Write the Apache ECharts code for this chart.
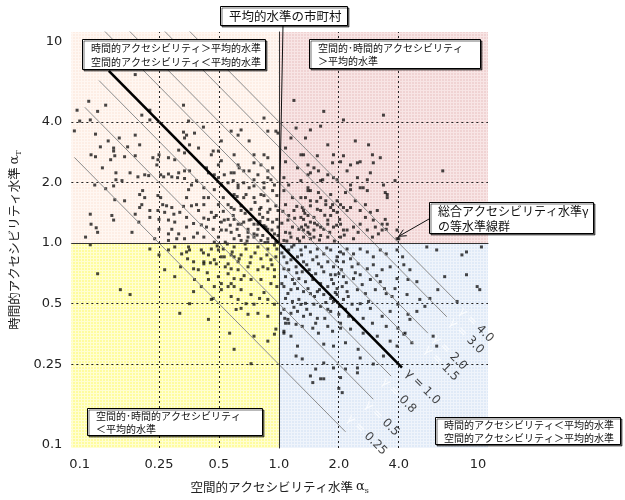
<!DOCTYPE html>
<html>
<head>
<meta charset="utf-8">
<script src="https://cdn.jsdelivr.net/npm/echarts@6/dist/echarts.min.js"></script>
<style>
  html, body { margin: 0; padding: 0; background: #fff; }
  #mychart { width: 625px; height: 500px; }
</style>
</head>
<body>
<div id="mychart"></div>
<script>
// 軸の目盛 (対数軸)
const tickValues = [0.1, 0.25, 0.5, 1.0, 2.0, 4.0, 10];
const tickLabels = ["0.1", "0.25", "0.5", "1.0", "2.0", "4.0", "10"];
const minorTickValues = [0.2, 0.3, 0.4, 0.6, 0.7, 0.8, 0.9, 3, 5, 6, 7, 8, 9];
const dottedLevels = [0.25, 0.5, 2.0, 4.0];

// 等水準線 γ = αS × αT
const gammaLevels = [0.25, 0.5, 0.8, 1.0, 1.5, 2.0, 3.0, 4.0];
const gammaStartS = [0.094, 0.106, 0.125, 0.14, 0.12, 0.15, 0.24, 0.3];
const gammaEndS = [2.16, 2.98, 3.66, 4.15, 4.76, 5.6, 6.97, 7.8];

// 市町村 [αS, αT]
const pointsTL = [
  [0.19,6.85],[0.21,7.6],[0.111,5.05],[0.097,4.56],[0.123,4.5],[0.135,4.83],[0.113,4.08],[0.1,4.03],[0.094,3.6],[0.225,4.56],
  [0.205,4.31],[0.225,4.08],[0.12,3.47],[0.139,3.21],[0.158,3.32],[0.19,3.43],[0.2,3.07],[0.174,3.0],[0.148,2.96],[0.127,3.0],
  [0.148,2.86],[0.114,2.74],[0.12,2.68],[0.15,2.71],[0.143,2.59],[0.168,2.68],[0.19,2.71],[0.13,2.36],[0.233,2.65],[0.247,2.59],
  [0.25,2.74],[0.244,2.44],[0.279,2.65],[0.3,2.59],[0.314,2.89],[0.336,2.8],[0.336,3.32],[0.332,3.55],[0.344,3.43],[0.352,4.03],
  [0.377,3.51],[0.395,2.96],[0.356,3.07],[0.418,3.76],[0.222,2.16],[0.212,2.18],[0.196,2.13],[0.179,2.23],[0.152,2.23],[0.152,2.06],
  [0.163,2.04],[0.119,1.94],[0.135,1.86],[0.148,1.92],[0.255,2.18],[0.264,2.13],[0.279,2.2],[0.29,2.13],[0.31,2.11],[0.314,2.23],
  [0.336,2.28],[0.356,2.28],[0.336,2.09],[0.364,1.94],[0.386,2.04],[0.433,2.36],[0.443,2.23],[0.42,1.68],[0.352,1.84],[0.207,1.82],
  [0.2,1.74],[0.212,1.68],[0.205,1.55],[0.15,1.64],[0.168,1.62],[0.247,1.72],[0.255,1.68],[0.261,1.55],[0.273,1.53],[0.29,1.5],
  [0.267,1.42],[0.247,1.45],[0.225,1.45],[0.19,1.39],[0.2,1.5],[0.297,1.39],[0.318,1.42],[0.332,1.52],[0.344,1.68],[0.386,1.55],
  [0.395,1.45],[0.364,1.53],[0.42,1.55],[0.145,1.37],[0.148,1.3],[0.113,1.39],[0.114,1.24],[0.121,1.19],[0.123,1.13],[0.183,1.13],
  [0.198,1.27],[0.225,1.34],[0.25,1.31],[0.25,1.17],[0.279,1.3],[0.29,1.17],[0.3,1.27],[0.279,1.11],[0.314,1.11],[0.344,1.2],
  [0.344,1.34],[0.373,1.25],[0.408,1.23],[0.42,1.33],[0.39,1.12],[0.373,1.07],[0.42,1.07],[0.336,1.05],[0.107,1.07],[0.238,1.05],
  [0.279,1.03],[0.307,1.05],[0.332,4.83],[0.576,3.59],[0.646,3.64],[0.624,3.43],[0.709,3.21],[0.842,4.17],[0.88,3.59],[0.966,3.59],
  [0.99,3.51],[0.514,3.21],[0.468,2.86],[0.596,2.74],[0.75,2.74],[0.842,2.74],[0.88,2.65],[0.497,2.44],[0.576,2.23],[0.632,2.36],
  [0.709,2.28],[0.813,2.44],[0.88,2.28],[0.912,2.06],[0.95,1.94],[0.75,2.06],[0.497,2.11],[0.556,1.99],[0.624,1.94],[0.474,1.84],
  [0.526,1.68],[0.596,1.74],[0.684,1.74],[0.75,1.68],[0.842,1.72],[0.88,1.62],[0.497,1.55],[0.576,1.5],[0.646,1.53],[0.725,1.47],
  [0.813,1.5],[0.88,1.42],[0.966,1.53],[0.474,1.34],[0.532,1.3],[0.596,1.31],[0.646,1.24],[0.709,1.3],[0.785,1.24],[0.861,1.2],
  [0.93,1.27],[0.99,1.2],[0.514,1.16],[0.576,1.13],[0.632,1.09],[0.7,1.13],[0.75,1.07],[0.83,1.09],[0.88,1.05],[0.95,1.11],
  [0.497,1.07],[0.596,1.05],[0.8,1.39],[0.83,1.34],[0.88,1.31],[0.842,1.22],[0.88,1.17],[0.785,1.17],[0.75,1.11],[0.93,1.07],
  [0.99,1.09],[0.966,1.01],[0.88,1.01],[0.813,1.03],[0.7,1.07],[0.646,1.03],[0.474,1.01],[0.99,1.45],[0.725,1.31],[0.666,1.27],
  [0.624,1.24],[0.59,1.37],[0.556,1.31],[0.514,1.27],[0.485,1.37],[0.458,1.42],[0.443,1.31],[0.433,1.2],[0.468,1.17],[0.544,1.16],
  [0.7,1.17],[0.75,1.24],[0.8,1.47],[0.646,1.45],[0.596,1.47],[0.556,1.55],[0.666,1.68],[0.813,1.74],[0.93,1.82],[0.842,1.99],
  [0.75,1.92],[0.666,1.99],[0.624,1.88],[0.59,2.04],[0.514,1.94],[0.443,1.68],[0.42,1.88],[0.474,2.18],[0.532,2.18],[0.596,2.23],
  [0.666,2.28],[0.785,2.18],[0.88,2.11],[0.93,2.36],[0.75,2.5],[0.624,2.44],[0.514,2.56],[0.458,2.74],[0.497,2.86],
  [0.538,1.01],[0.617,1.17],[0.692,1.023],[0.777,1.095],[0.851,1.005],[0.923,1.16],[0.977,1.31],[0.804,1.28],[0.677,1.404],[0.57,1.226],
  [0.902,1.47],[0.759,1.59],[0.617,1.7],[0.526,1.436],[0.977,1.72],[0.842,1.88],[0.709,1.88]
];
const pointsTR = [
  [1.68,4.5],[2.11,4.08],[3.35,4.31],[2.82,3.07],[2.42,3.21],[2.11,2.71],[1.62,3.8],[1.44,3.64],[1.36,3.32],[1.76,3.07],
  [1.88,2.74],[2.04,2.53],[2.29,2.44],[2.56,2.53],[2.95,2.74],[3.23,2.65],[3.35,1.94],[3.5,1.74],[2.78,2.06],[2.65,1.88],
  [2.48,2.11],[2.29,1.94],[2.16,1.78],[1.96,2.06],[1.76,2.18],[1.66,2.06],[1.58,2.28],[1.5,2.36],[1.4,2.44],[1.33,2.74],
  [6.65,2.28],[3.83,2.04],[3.92,1.16],[3.3,1.16],[3.05,1.2],[2.78,1.16],[2.56,1.24],[2.37,1.2],[2.2,1.16],[2.04,1.24],
  [1.88,1.2],[1.76,1.24],[1.62,1.2],[1.5,1.16],[1.4,1.2],[1.33,1.16],[2.72,1.55],[2.42,1.62],[2.2,1.45],[2.04,1.55],
  [1.88,1.45],[1.72,1.55],[1.56,1.47],[1.44,1.53],[1.33,1.45],[3.12,1.45],[3.42,1.31],[1.44,1.82],[1.62,1.68],[1.82,1.74],
  [1.62,2.04],[1.88,2.11],[1.58,1.78],[2.29,1.84],[2.56,1.88],[2.78,1.82],[3.42,1.78],[3.5,1.68],[1.96,1.62],[2.11,1.5],
  [2.29,1.5],[2.56,1.45],[2.88,1.42],[2.98,1.3],[2.72,1.34],[3.3,1.24],[3.5,1.24],[3.46,1.17],[4.0,1.05],[3.92,1.05],
  [3.16,1.11],[2.95,1.07],[2.37,1.05],[2.5,1.13],[2.11,1.16],[1.76,1.3],[1.82,1.37],[1.62,1.45],[1.4,1.37],[1.33,1.31],
  [1.31,1.5],[1.44,1.27],[1.56,1.23],[1.68,1.17],[1.62,1.09],[1.76,1.07],[1.5,1.07],[1.4,1.13],[1.33,1.07],[2.04,1.07],
  [1.96,1.42],[1.86,1.55],[1.72,1.62],[1.36,1.68],[1.4,1.88],[2.48,2.5],[2.98,2.5],[1.86,2.5],[1.44,2.23],[2.2,2.28],
  [2.88,2.23],[1.06,2.11],[1.12,1.94],[1.29,2.04],[1.4,1.82],[1.44,1.62],[1.08,1.55],[1.19,1.45],[1.29,1.34],[1.5,1.34],
  [1.11,1.3],[1.17,1.2],[1.26,1.17],[1.36,1.23],[1.08,1.13],[1.15,1.07],[1.24,1.05],[1.44,1.05],[1.06,1.03],[1.12,1.37],
  [1.06,1.82],[1.17,1.68],[1.29,1.68],[1.08,2.53],[1.24,2.36],[1.4,2.18],[1.56,2.71],[1.29,2.74],[1.19,5.1],[1.15,3.32],
  [1.08,2.96],[1.22,3.72],
  [1.035,1.254],[1.135,1.12],[1.2,1.327],[1.27,1.023],[1.35,1.404],[1.43,1.107],[1.51,1.254],[1.6,1.035],[1.7,1.373],[1.8,1.13],
  [1.9,1.023],[2.02,1.31],[2.13,1.095],[1.047,1.436],[1.23,1.52],[1.55,1.61],[1.82,1.5],[1.097,1.023],[1.3,1.2],[1.95,1.226]
];
const pointsBL = [
  [0.113,0.98],[0.123,0.704],[0.16,0.587],[0.179,0.555],[0.267,0.737],[0.3,0.681],[0.377,0.659],[0.318,0.448],[0.443,0.418],[0.458,0.525],
  [0.566,0.357],[0.596,0.297],[0.75,0.345],[0.88,0.326],[0.95,0.353],[0.966,0.374],[0.88,0.433],[0.785,0.448],[0.7,0.443],[0.646,0.474],
  [0.624,0.525],[0.576,0.543],[0.514,0.587],[0.474,0.608],[0.596,0.608],[0.646,0.587],[0.725,0.555],[0.8,0.531],[0.88,0.525],[0.95,0.497],
  [0.75,0.497],[0.684,0.5],[0.394,0.737],[0.42,0.788],[0.474,0.826],[0.514,0.854],[0.576,0.873],[0.646,0.873],[0.725,0.854],[0.813,0.835],
  [0.912,0.826],[0.966,0.854],[0.88,0.745],[0.785,0.737],[0.7,0.762],[0.624,0.737],[0.556,0.704],[0.497,0.681],[0.443,0.659],[0.408,0.608],
  [0.813,0.659],[0.912,0.629],[0.95,0.681],[0.725,0.659],[0.646,0.659],[0.576,0.629],[0.514,0.629],[0.279,0.924],[0.3,0.956],[0.352,0.956],
  [0.408,0.924],[0.458,0.934],[0.526,0.934],[0.596,0.956],[0.684,0.934],[0.785,0.956],[0.88,0.934],[0.95,0.978],[0.443,0.873],[0.344,0.903],
  [0.95,0.737],[0.25,0.873],[0.225,0.934],[0.373,0.807],[0.325,0.883],[0.356,0.924],[0.373,0.745],[0.42,0.807],[0.497,0.924],[0.485,0.788],
  [0.532,0.854],[0.556,0.788],[0.576,0.745],[0.596,0.854],[0.624,0.807],[0.596,0.666],[0.556,0.608],[0.468,0.531],[0.373,0.574],[0.61,0.468],
  [0.356,0.5],[0.725,0.252],
  [0.418,0.893],[0.453,0.798],[0.49,0.967],[0.538,0.762],[0.583,0.903],[0.632,0.835],[0.677,0.989],[0.717,0.798],[0.759,0.893],[0.832,0.762],
  [0.871,0.873],[0.923,0.78],[0.977,0.934],[0.977,0.608],[0.842,0.568],[0.669,0.689],[0.437,0.712],[0.551,0.989],[0.348,0.835],[0.321,0.762]
];
const pointsBR = [
  [1.06,0.956],[1.12,0.924],[1.19,0.978],[1.29,0.924],[1.36,0.956],[1.44,0.903],[1.56,0.934],[1.68,0.883],[1.82,0.924],[1.96,0.854],
  [2.11,0.883],[1.06,0.854],[1.15,0.826],[1.24,0.854],[1.33,0.807],[1.48,0.826],[1.58,0.788],[1.76,0.807],[1.88,0.762],[1.06,0.745],
  [1.12,0.737],[1.22,0.762],[1.31,0.72],[1.42,0.737],[1.53,0.704],[1.68,0.72],[1.82,0.696],[2.0,0.704],[1.08,0.681],[1.17,0.659],
  [1.26,0.666],[1.36,0.643],[1.48,0.659],[1.62,0.629],[1.76,0.608],[1.88,0.629],[2.08,0.608],[1.06,0.608],[1.15,0.587],[1.24,0.594],
  [1.33,0.574],[1.44,0.561],[1.56,0.574],[1.68,0.555],[1.82,0.531],[1.96,0.555],[2.11,0.525],[1.08,0.531],[1.17,0.513],[1.26,0.525],
  [1.36,0.502],[1.5,0.497],[1.62,0.485],[1.76,0.469],[1.06,0.469],[1.15,0.448],[1.24,0.458],[1.33,0.433],[1.44,0.443],[1.56,0.423],
  [1.12,0.4],[1.22,0.395],[1.31,0.386],[1.48,0.378],[1.58,0.357],[1.76,0.386],[1.86,0.365],[2.04,0.4],[1.06,0.365],[2.16,0.469],
  [2.04,0.903],[2.2,0.934],[2.37,0.883],[2.56,0.934],[2.78,0.903],[2.98,0.854],[3.23,0.924],[3.46,0.883],[3.92,0.924],[4.18,0.854],
  [5.53,0.956],[6.2,0.924],[8.3,0.873],[8.75,0.903],[10.4,0.956],[2.11,0.807],[2.33,0.762],[2.5,0.788],[2.78,0.745],[2.98,0.78],
  [3.3,0.737],[3.62,0.762],[4.24,0.78],[4.55,0.737],[1.92,0.696],[2.11,0.681],[2.37,0.666],[2.56,0.696],[2.88,0.659],[3.23,0.643],
  [3.92,0.666],[4.45,0.659],[4.93,0.643],[6.8,0.681],[1.96,0.594],[2.2,0.574],[2.48,0.587],[2.72,0.561],[3.05,0.587],[3.46,0.561],
  [3.83,0.594],[4.4,0.555],[5.1,0.525],[5.73,0.531],[6.28,0.587],[7.85,0.513],[9.9,0.608],[1.88,0.513],[2.33,0.497],[2.56,0.5],
  [2.88,0.474],[3.3,0.433],[3.62,0.458],[3.96,0.497],[4.45,0.443],[4.55,0.418],[4.93,0.458],[5.41,0.485],[1.82,0.458],[2.0,0.443],
  [2.24,0.433],[2.37,0.418],[2.65,0.423],[2.95,0.4],[3.46,0.386],[3.96,0.378],[4.3,0.357],[4.65,0.32],[5.95,0.345],[6.2,0.308],
  [2.04,0.378],[2.29,0.374],[2.65,0.357],[3.12,0.345],[3.62,0.326],[3.92,0.308],[1.68,0.315],[1.88,0.308],[2.16,0.32],[2.5,0.297],
  [1.68,0.254],[1.88,0.24],[2.04,0.215],[1.68,0.212],[3.35,0.275],[2.56,0.269],[2.16,0.237],[2.48,0.24],[2.98,0.251],[2.0,0.19],
  [2.08,0.181],[4.24,0.353],[1.53,0.237],[1.62,0.212],[1.48,0.203],[2.48,0.227],[10.2,0.587],[8.75,0.696],[1.02,0.448],[1.08,0.4],
  [1.06,0.357],[1.22,0.275],[1.31,0.266],[1.44,0.219],[1.15,0.345],[1.11,0.418],[1.24,0.308],
  [1.035,0.893],[1.097,0.798],[1.16,0.956],[1.23,0.712],[1.30,0.873],[1.38,0.78],[1.46,0.689],[1.55,0.854],[1.64,0.762],[1.74,0.945],
  [1.84,0.659],[1.95,0.816],[2.06,0.737],[2.18,0.636],[1.035,0.629],[1.11,0.562],[1.2,0.629],[1.29,0.496],[1.4,0.594],[1.51,0.543],
  [1.6,0.587],[1.72,0.507],[1.92,0.568],[2.02,0.485],[1.07,0.423],[1.19,0.48],[1.38,0.469],[1.53,0.4],[1.7,0.423],[2.29,0.835],
  [2.42,0.712],[2.62,0.622],[2.23,0.543],[2.48,0.469],[2.82,0.513],[3.1,0.689],[3.39,0.594],[3.7,0.543]
];

const L = v => Math.log10(v);
const X_MIN = -1.042, X_MAX = 1.05, Y_MIN = -1.017, Y_MAX = 1.047;
const NUM_FONT = "DejaVu Sans";
const JP_FONT = "'Noto Sans CJK JP', sans-serif";

function tickText(v) {
  const i = tickValues.findIndex(t => Math.abs(L(t) - v) < 1e-6);
  return i >= 0 ? tickLabels[i] : "";
}

// 背景の細かい格子模様
function hatch(base, line) {
  const c = document.createElement("canvas");
  c.width = 3;
  c.height = 3;
  const ctx = c.getContext("2d");
  ctx.fillStyle = base;
  ctx.fillRect(0, 0, 3, 3);
  ctx.fillStyle = line;
  ctx.fillRect(0, 0, 3, 1);
  ctx.fillRect(0, 0, 1, 3);
  return { image: c, repeat: "repeat" };
}

function axisPair(dim, min, max) {
  const base = {
    type: "value",
    min: min,
    max: max,
    splitLine: { show: false },
    position: dim === "x" ? "bottom" : "left"
  };
  const major = Object.assign({}, base, {
    axisLine: { show: true, lineStyle: { color: "#222", width: 1 } },
    axisTick: { show: true, customValues: tickValues.map(L), length: 5, lineStyle: { color: "#222" } },
    axisLabel: {
      customValues: tickValues.map(L),
      formatter: tickText,
      color: "#222",
      fontFamily: NUM_FONT,
      fontSize: 13,
      margin: dim === "x" ? 10 : 9
    }
  });
  const minor = Object.assign({}, base, {
    axisLine: { show: false },
    axisTick: { show: true, customValues: minorTickValues.map(L), length: 3, lineStyle: { color: "#222" } },
    axisLabel: { show: false }
  });
  return [major, minor];
}

const nameRich = {
  t: { fontFamily: JP_FONT, fontSize: 12.5, color: "#222" },
  a: { fontFamily: "DejaVu Serif", fontSize: 13, color: "#222" },
  s: { fontFamily: "DejaVu Serif", fontSize: 8, color: "#222", padding: [8, 0, 0, 0] }
};
const xAxes = axisPair("x", X_MIN, X_MAX);
const yAxes = axisPair("y", Y_MIN, Y_MAX);
xAxes[0].name = "{t|空間的アクセシビリティ水準 }{a|α}{s|s}";
xAxes[0].nameLocation = "middle";
xAxes[0].nameGap = 31;
xAxes[0].nameTextStyle = { rich: nameRich };
yAxes[0].name = "{t|時間的アクセシビリティ水準 }{a|α}{s|T}";
yAxes[0].nameLocation = "middle";
yAxes[0].nameGap = 37;
yAxes[0].nameRotate = 90;
yAxes[0].nameTextStyle = { rich: nameRich };

const quadrants = [
  [[X_MIN, 0], [0, Y_MAX], hatch("#fdeee5", "#fff7f2")],
  [[0, 0], [X_MAX, Y_MAX], hatch("#f0d3d3", "#f8e5e5")],
  [[X_MIN, Y_MIN], [0, 0], hatch("#fefc9e", "#fffed2")],
  [[0, Y_MIN], [X_MAX, 0], hatch("#e0eaf7", "#eff4fb")]
];

const toLog = p => [L(p[0]), L(p[1])];
const allPoints = pointsTL.concat(pointsTR, pointsBL, pointsBR).map(toLog);

const gammaSeries = gammaLevels.map((g, i) => ({
  type: "line",
  z: 4,
  silent: true,
  symbol: "none",
  clip: true,
  lineStyle: g === 1.0 ? { color: "#000", width: 2.6 } : { color: "#8c8c8c", width: 1 },
  data: [
    [L(gammaStartS[i]), L(g / gammaStartS[i])],
    [L(gammaEndS[i]), L(g / gammaEndS[i])]
  ]
}));

// ラベルの位置 (線の終点からのずれ, px)
const labelShift = [[3, -15], [-7, 4], [-8, 4], [5, 4], [12, 4], [6, 4], [4, 4], [4, 8]];

const gammaLabelSeries = {
  type: "scatter",
  z: 6,
  silent: true,
  symbolSize: 0,
  itemStyle: { color: "transparent" },
  data: gammaLevels.map((g, i) => ({
    value: [L(gammaEndS[i]), L(g / gammaEndS[i])],
    label: {
      show: true,
      position: labelShift[i],
      rotate: -45,
      align: "left",
      verticalAlign: "middle",
      formatter: g === 1.0 ? "{v|γ = 1.0}" : "{w|γ = }{v|" + (g === 0.25 ? "0.25" : g.toFixed(1)) + "}",
      rich: {
        v: { fontFamily: NUM_FONT, fontSize: 12, color: "#111" },
        w: { fontFamily: NUM_FONT, fontSize: 12, color: "#ffffff" }
      }
    }
  }))
};

const chart = echarts.init(document.getElementById("mychart"), null, { renderer: "canvas" });

chart.setOption({
  animation: false,
  backgroundColor: "#fff",
  grid: { left: 69, right: 137, top: 32, bottom: 48 },
  xAxis: xAxes,
  yAxis: yAxes,
  series: [
    {
      type: "line",
      z: 1,
      silent: true,
      data: [],
      markArea: {
        silent: true,
        data: quadrants.map(q => [
          { coord: q[0], itemStyle: { color: q[2], opacity: 1 } },
          { coord: q[1] }
        ])
      },
      markLine: {
        silent: true,
        symbol: "none",
        label: { show: false },
        data: dottedLevels.map(v => ({ xAxis: L(v), lineStyle: { type: [2, 3], color: "#222", width: 1 } }))
          .concat(dottedLevels.map(v => ({ yAxis: L(v), lineStyle: { type: [2, 3], color: "#222", width: 1 } })))
          .concat([
            { xAxis: 0, lineStyle: { type: "solid", color: "#333", width: 1 } },
            { yAxis: 0, lineStyle: { type: "solid", color: "#333", width: 1 } }
          ])
      }
    },
    {
      type: "scatter",
      z: 3,
      silent: true,
      symbol: "rect",
      symbolSize: 3,
      itemStyle: { color: "rgba(0,0,0,0.9)" },
      data: allPoints
    }
  ].concat(gammaSeries, [gammaLabelSeries])
});

// 注記
function noteBox(x, y, w, h, lines, fontSize, lineHeight) {
  return {
    type: "group",
    z: 100,
    children: [
      {
        type: "rect",
        z: 100,
        shape: { x: x + 0.5, y: y + 0.5, width: w, height: h },
        style: {
          fill: "#fff", stroke: "#000", lineWidth: 1,
          shadowColor: "rgba(0,0,0,0.55)", shadowOffsetX: 1.5, shadowOffsetY: 1.5, shadowBlur: 0
        }
      },
      {
        type: "text",
        z: 101,
        x: x + 9,
        y: y + h / 2 + 1,
        style: {
          text: lines.join("\n"),
          fontFamily: JP_FONT,
          fontSize: fontSize,
          lineHeight: lineHeight,
          fill: "#111",
          verticalAlign: "middle",
          align: "left"
        }
      }
    ]
  };
}

const centerPx = chart.convertToPixel({ gridIndex: 0 }, [0, 0]);
const tipPx = chart.convertToPixel({ gridIndex: 0 }, [L(4.0), L(1.08)]);
const tail = [429, 219];
const ang = Math.atan2(tail[1] - tipPx[1], tail[0] - tipPx[0]);
const head = a => [tipPx[0] + 8 * Math.cos(ang + a), tipPx[1] + 8 * Math.sin(ang + a)];

chart.setOption({
  graphic: [
    {
      type: "line", z: 99,
      shape: { x1: 283, y1: 25, x2: centerPx[0], y2: centerPx[1] },
      style: { stroke: "#111", lineWidth: 1 }
    },
    noteBox(220, 6, 127, 19, ["平均的水準の市町村"], 12.5, 15),
    noteBox(82, 39, 183, 30, ["時間的アクセシビリティ＞平均的水準", "空間的アクセシビリティ＜平均的水準"], 10, 13.5),
    noteBox(309, 39, 171, 29, ["空間的･時間的アクセシビリティ", "＞平均的水準"], 10, 13.5),
    noteBox(87, 408, 175, 27, ["空間的･時間的アクセシビリティ", "＜平均的水準"], 10, 12.5),
    noteBox(435, 417, 185, 27, ["時間的アクセシビリティ＜平均的水準", "空間的アクセシビリティ＞平均的水準"], 10, 13),
    noteBox(429, 202, 164, 31, ["総合アクセシビリティ水準γ", "の等水準線群"], 12, 15),
    {
      type: "line", z: 99,
      shape: { x1: tail[0], y1: tail[1], x2: tipPx[0], y2: tipPx[1] },
      style: { stroke: "#111", lineWidth: 1 }
    },
    {
      type: "polyline", z: 99,
      shape: { points: [head(0.45), tipPx, head(-0.45)] },
      style: { stroke: "#111", lineWidth: 1, fill: null }
    }
  ]
});

window.addEventListener("resize", () => {
  chart.resize();
});
</script>
</body>
</html>
